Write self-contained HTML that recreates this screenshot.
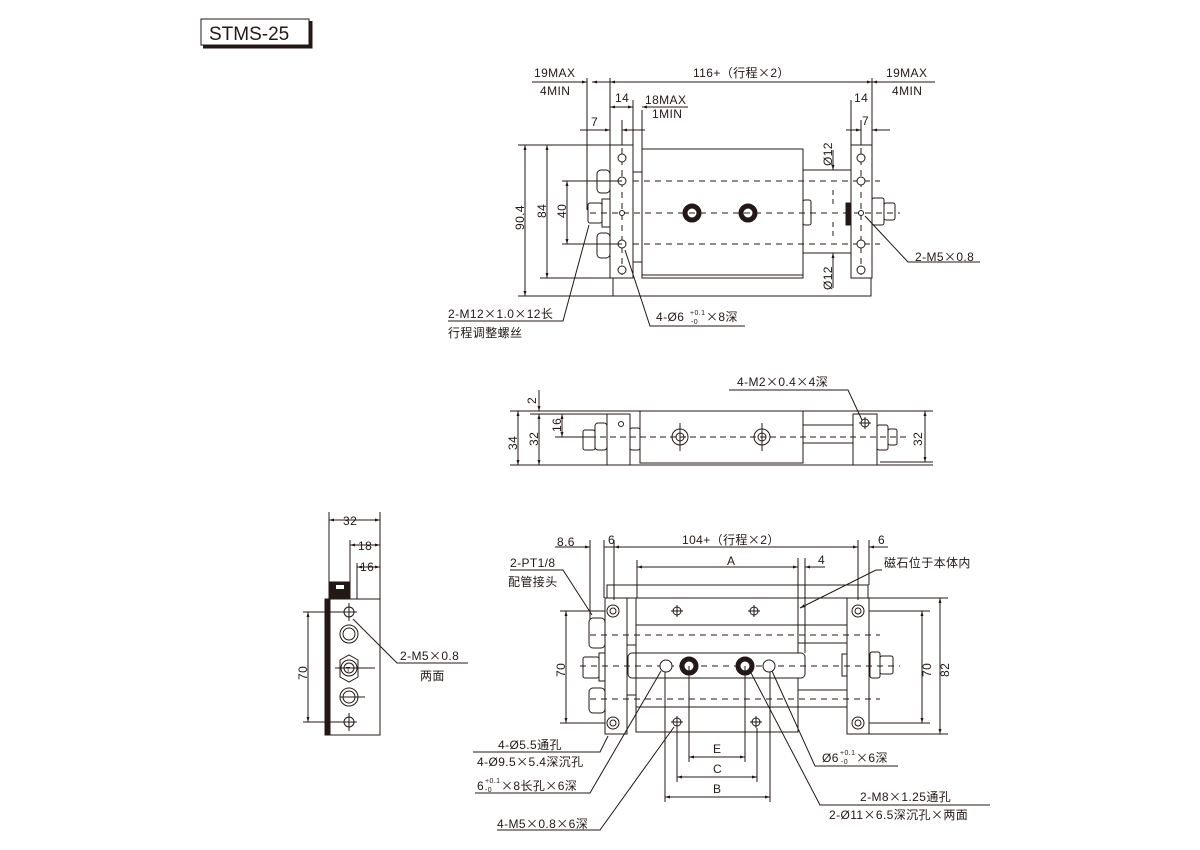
<!DOCTYPE html>
<html><head><meta charset="utf-8"><style>
body{margin:0;background:#fff}
svg{display:block}
text{font-family:"Liberation Sans","Noto Sans CJK SC",sans-serif;font-size:12px;fill:#231815;letter-spacing:0.4px}
.c{font-family:"Noto Sans CJK SC",sans-serif}
</style></head><body>
<svg width="1200" height="850" viewBox="0 0 1200 850" xmlns="http://www.w3.org/2000/svg">
<defs>
<marker id="a" viewBox="0 0 10 10" refX="10" refY="5" markerWidth="7" markerHeight="5" orient="auto-start-reverse"><path d="M0,2 L10,5 L0,8z" fill="#231815"/></marker>
</defs>
<g stroke="#231815" fill="none" stroke-width="1">
<rect x="201" y="19" width="108" height="26" fill="#fff"/>
<path d="M311,21 V47 H203" stroke-width="3"/>
</g>
<text x="209" y="40" style="font-size:19px;letter-spacing:0">STMS-25</text>

<!-- ===== TOP VIEW ===== -->
<g stroke="#231815" fill="none" stroke-width="1">
<rect x="610" y="145" width="23" height="133"/>
<rect x="642" y="149" width="161" height="129"/>
<line x1="642" y1="275" x2="803" y2="275"/>
<rect x="851" y="145" width="21" height="133"/>
<rect x="803" y="170" width="48" height="83"/>
<rect x="633" y="172" width="9" height="90"/>
<path d="M613,278 V296 H871 V278"/>
<g stroke-dasharray="6,5"><line x1="633" y1="181" x2="880" y2="181"/><line x1="590" y1="213" x2="900" y2="213"/><line x1="633" y1="244" x2="880" y2="244"/><line x1="622" y1="148" x2="622" y2="275"/><line x1="861" y1="148" x2="861" y2="275"/></g>
<g fill="#fff"><circle cx="622" cy="158" r="4"/><circle cx="622" cy="181" r="4"/><circle cx="622" cy="244" r="4"/><circle cx="622" cy="270" r="4"/><circle cx="622" cy="213" r="2.5"/>
<circle cx="861" cy="158" r="4"/><circle cx="861" cy="181" r="4"/><circle cx="861" cy="244" r="4"/><circle cx="861" cy="270" r="4"/><circle cx="861" cy="213" r="2.5"/></g>
<circle cx="692" cy="213" r="7" stroke-width="5"/><circle cx="748" cy="213" r="7" stroke-width="5"/>
<rect x="597" y="170" width="13" height="23" rx="4"/><rect x="597" y="233" width="13" height="25" rx="4"/>
<rect x="588" y="203" width="14" height="20" rx="2"/><rect x="602" y="199" width="8" height="28"/>
<rect x="803" y="200" width="8" height="25" rx="2"/>
<rect x="846" y="203" width="5" height="22" fill="#231815"/>
<rect x="872" y="198" width="12" height="27" rx="2"/><rect x="884" y="203" width="11" height="17" rx="2"/>
<line x1="587" y1="78" x2="587" y2="210"/><line x1="610" y1="78" x2="610" y2="145"/><line x1="872" y1="78" x2="872" y2="145"/>
<line x1="633" y1="100" x2="633" y2="145"/><line x1="642" y1="110" x2="642" y2="149"/><line x1="851" y1="100" x2="851" y2="145"/>
<line x1="532" y1="82" x2="587" y2="82" marker-end="url(#a)"/><line x1="592" y1="82" x2="610" y2="82" marker-start="url(#a)" />
<line x1="610" y1="82" x2="872" y2="82" marker-start="url(#a)" marker-end="url(#a)"/>
<line x1="872" y1="82" x2="935" y2="82" marker-start="url(#a)"/>
<line x1="610" y1="107" x2="633" y2="107" marker-start="url(#a)" marker-end="url(#a)"/>
<line x1="642" y1="107" x2="688" y2="107" marker-start="url(#a)"/>
<line x1="580" y1="130" x2="610" y2="130" marker-end="url(#a)"/><line x1="622" y1="130" x2="645" y2="130" marker-start="url(#a)"/>
<line x1="622" y1="120" x2="622" y2="145"/>
<line x1="846" y1="130" x2="861" y2="130" marker-end="url(#a)"/><line x1="872" y1="130" x2="890" y2="130" marker-start="url(#a)"/>
<line x1="861" y1="120" x2="861" y2="145"/>
<line x1="518" y1="145" x2="610" y2="145"/><line x1="518" y1="296" x2="613" y2="296"/><line x1="540" y1="278" x2="610" y2="278"/>
<line x1="525" y1="145" x2="525" y2="296" marker-start="url(#a)" marker-end="url(#a)"/>
<line x1="547" y1="145" x2="547" y2="278" marker-start="url(#a)" marker-end="url(#a)"/>
<line x1="562" y1="181" x2="622" y2="181"/><line x1="562" y1="244" x2="622" y2="244"/>
<line x1="567" y1="181" x2="567" y2="244" marker-start="url(#a)" marker-end="url(#a)"/>
<line x1="833" y1="150" x2="833" y2="170" marker-end="url(#a)"/><line x1="833" y1="253" x2="833" y2="288" marker-start="url(#a)"/>
<line x1="833" y1="190" x2="833" y2="205" stroke-dasharray="5,4"/><line x1="833" y1="222" x2="833" y2="240" stroke-dasharray="5,4"/>
<path d="M589,225 L563,321 H448"/><path d="M625,250 L650,326 H745"/><path d="M865,216 L908,262 H980"/>
</g>
<text x="534" y="77">19MAX</text><text x="540" y="95">4MIN</text>
<text x="693" y="77">116+（行程<tspan class="c">×</tspan>2）</text>
<text x="886" y="77">19MAX</text><text x="892" y="95">4MIN</text>
<text x="615" y="102">14</text><text x="645" y="104">18MAX</text><text x="652" y="118">1MIN</text>
<text x="591" y="126">7</text><text x="854" y="102">14</text><text x="862" y="125">7</text>
<text x="524" y="230" transform="rotate(-90 524 230)">90.4</text>
<text x="546" y="218" transform="rotate(-90 546 218)">84</text>
<text x="566" y="218" transform="rotate(-90 566 218)">40</text>
<text x="832" y="166" transform="rotate(-90 832 166)">Ø12</text>
<text x="832" y="290" transform="rotate(-90 832 290)">Ø12</text>
<text x="448" y="318">2-M12<tspan class="c">×</tspan>1.0<tspan class="c">×</tspan>12长</text><text x="448" y="337">行程调整螺丝</text>
<text x="656" y="321">4-Ø6</text><text x="690" y="315" style="font-size:7px">+0.1</text><text x="691" y="324" style="font-size:7px">-0</text><text x="706" y="321"><tspan class="c">×</tspan>8深</text>
<text x="915" y="261">2-M5<tspan class="c">×</tspan>0.8</text>

<!-- ===== SIDE VIEW ===== -->
<g stroke="#231815" fill="none" stroke-width="1">
<line x1="510" y1="411" x2="933" y2="411"/><line x1="510" y1="465" x2="933" y2="465"/>
<line x1="530" y1="414" x2="607" y2="414"/>
<rect x="607" y="414" width="23" height="51"/>
<rect x="640" y="411" width="163" height="52"/>
<rect x="803" y="425" width="50" height="18"/>
<rect x="853" y="414" width="24" height="51"/>
<rect x="877" y="425" width="11" height="25" rx="2"/><rect x="888" y="429" width="9" height="16" rx="2"/>
<rect x="595" y="423" width="12" height="27" rx="3"/><rect x="583" y="430" width="12" height="20" rx="2"/>
<rect x="630" y="428" width="10" height="22" rx="2"/>
<line x1="560" y1="437" x2="910" y2="437" stroke-dasharray="6,4"/>
<circle cx="680" cy="437" r="8"/><circle cx="680" cy="437" r="4"/><line x1="680" y1="423" x2="680" y2="451"/>
<circle cx="762" cy="437" r="8"/><circle cx="762" cy="437" r="4"/><line x1="762" y1="423" x2="762" y2="451"/>
<circle cx="865" cy="423" r="4"/><line x1="859" y1="423" x2="871" y2="423"/><line x1="865" y1="417" x2="865" y2="429"/>
<circle cx="621" cy="424" r="2.5"/>
<line x1="518" y1="411" x2="518" y2="465" marker-start="url(#a)" marker-end="url(#a)"/>
<line x1="539" y1="414" x2="539" y2="465" marker-start="url(#a)" marker-end="url(#a)"/>
<line x1="539" y1="390" x2="539" y2="411" marker-end="url(#a)"/>
<line x1="562" y1="414" x2="562" y2="437" marker-start="url(#a)" marker-end="url(#a)"/>
<line x1="555" y1="437" x2="590" y2="437"/>
<line x1="925" y1="411" x2="925" y2="462" marker-start="url(#a)" marker-end="url(#a)"/>
<line x1="880" y1="462" x2="933" y2="462"/>
<path d="M729,390 H848 L862,420"/>
</g>
<text x="517" y="450" transform="rotate(-90 517 450)">34</text>
<text x="538" y="446" transform="rotate(-90 538 446)">32</text>
<text x="561" y="432" transform="rotate(-90 561 432)">16</text>
<text x="536" y="404" transform="rotate(-90 536 404)">2</text>
<text x="922" y="446" transform="rotate(-90 922 446)">32</text>
<text x="737" y="386">4-M2<tspan class="c">×</tspan>0.4<tspan class="c">×</tspan>4深</text>

<!-- ===== END VIEW ===== -->
<g stroke="#231815" fill="none" stroke-width="1">
<rect x="329" y="599" width="51" height="136"/>
<rect x="325" y="599" width="5" height="136" fill="#231815"/>
<path d="M329,582 H350 V599 H329z" fill="#231815"/>
<rect x="336" y="585" width="8" height="4" fill="#fff" stroke="none"/>
<line x1="329" y1="512" x2="329" y2="582"/><line x1="380" y1="512" x2="380" y2="599"/>
<line x1="350" y1="540" x2="350" y2="582"/><line x1="357" y1="563" x2="357" y2="599"/>
<line x1="329" y1="520" x2="380" y2="520" marker-start="url(#a)" marker-end="url(#a)"/>
<line x1="350" y1="545" x2="380" y2="545" marker-start="url(#a)" marker-end="url(#a)"/>
<line x1="357" y1="567" x2="380" y2="567" marker-start="url(#a)" marker-end="url(#a)"/>
<line x1="303" y1="612" x2="345" y2="612"/><line x1="303" y1="722" x2="345" y2="722"/>
<line x1="308" y1="612" x2="308" y2="722" marker-start="url(#a)" marker-end="url(#a)"/>
<circle cx="349" cy="612" r="5"/><line x1="349" y1="603" x2="349" y2="621"/><line x1="341" y1="612" x2="357" y2="612"/>
<circle cx="349" cy="722" r="5"/><line x1="349" y1="713" x2="349" y2="731"/><line x1="341" y1="722" x2="357" y2="722"/>
<circle cx="349" cy="634" r="9"/><circle cx="349" cy="634" r="6"/>
<circle cx="349" cy="697" r="9"/><circle cx="349" cy="697" r="6"/><line x1="340" y1="697" x2="365" y2="697"/>
<path d="M340,660 L349,655 L358,660 L358,677 L349,682 L340,677z"/><circle cx="349" cy="668" r="8"/><circle cx="349" cy="668" r="5"/>
<line x1="335" y1="668" x2="375" y2="668"/>
<path d="M353,619 L397,663 H468"/>
</g>
<text x="346" y="672" style="font-size:7px">T</text>
<text x="343" y="525">32</text><text x="358" y="550">18</text><text x="360" y="571">16</text>
<text x="307" y="680" transform="rotate(-90 307 680)">70</text>
<text x="400" y="660">2-M5<tspan class="c">×</tspan>0.8</text><text x="420" y="680">两面</text>

<!-- ===== BOTTOM VIEW ===== -->
<g stroke="#231815" fill="none" stroke-width="1">
<rect x="607" y="585" width="261" height="13"/>
<rect x="605" y="598" width="22" height="136"/>
<rect x="636" y="598" width="162" height="134"/>
<rect x="847" y="598" width="22" height="136"/>
<rect x="636" y="625" width="162" height="28"/>
<rect x="628" y="653" width="177" height="25" rx="4" fill="#fff"/>
<rect x="636" y="678" width="162" height="29" fill="#fff"/>
<line x1="798" y1="643" x2="847" y2="643"/><line x1="798" y1="625" x2="847" y2="625"/>
<line x1="798" y1="690" x2="847" y2="690"/><line x1="798" y1="707" x2="847" y2="707"/>
<rect x="627" y="645" width="9" height="50"/>
<g stroke-dasharray="6,5"><line x1="590" y1="635" x2="880" y2="635"/><line x1="580" y1="666" x2="900" y2="666"/><line x1="590" y1="699" x2="880" y2="699"/></g>
<g fill="#fff"><circle cx="613" cy="611" r="6"/><circle cx="613" cy="723" r="6"/><circle cx="858" cy="611" r="6"/><circle cx="858" cy="723" r="6"/></g>
<circle cx="613" cy="611" r="3"/><circle cx="613" cy="723" r="3"/><circle cx="858" cy="611" r="3"/><circle cx="858" cy="723" r="3"/>
<g><circle cx="677" cy="611" r="4"/><line x1="677" y1="605" x2="677" y2="617"/><line x1="671" y1="611" x2="683" y2="611"/>
<circle cx="754" cy="611" r="4"/><line x1="754" y1="605" x2="754" y2="617"/><line x1="748" y1="611" x2="760" y2="611"/>
<circle cx="677" cy="722" r="4"/><line x1="677" y1="716" x2="677" y2="728"/><line x1="671" y1="722" x2="683" y2="722"/>
<circle cx="756" cy="722" r="4"/><line x1="756" y1="716" x2="756" y2="728"/><line x1="750" y1="722" x2="762" y2="722"/></g>
<circle cx="666" cy="666" r="6" fill="#fff"/><circle cx="769" cy="666" r="6" fill="#fff"/>
<circle cx="689" cy="666" r="7" stroke-width="5" fill="#fff"/><circle cx="745" cy="666" r="7" stroke-width="5" fill="#fff"/>
<rect x="589" y="618" width="16" height="30" rx="4"/><rect x="589" y="688" width="16" height="25" rx="4"/>
<rect x="583" y="657" width="16" height="21" rx="2"/><rect x="599" y="653" width="6" height="28"/>
<rect x="842" y="654" width="5" height="22"/>
<rect x="870" y="652" width="10" height="26" rx="2"/><rect x="880" y="656" width="13" height="18" rx="2"/>
<line x1="590" y1="540" x2="590" y2="620"/><line x1="604" y1="540" x2="604" y2="598"/><line x1="614" y1="540" x2="614" y2="600"/>
<line x1="858" y1="540" x2="858" y2="600"/><line x1="869" y1="540" x2="869" y2="585"/>
<line x1="555" y1="547" x2="590" y2="547" marker-end="url(#a)"/>
<line x1="604" y1="547" x2="614" y2="547"/>
<line x1="614" y1="547" x2="858" y2="547" marker-start="url(#a)" marker-end="url(#a)"/>
<line x1="869" y1="547" x2="888" y2="547" marker-start="url(#a)"/>
<line x1="637" y1="560" x2="637" y2="598"/><line x1="798" y1="558" x2="798" y2="625"/><line x1="805" y1="558" x2="805" y2="653"/>
<line x1="637" y1="567" x2="798" y2="567" marker-start="url(#a)" marker-end="url(#a)"/>
<line x1="805" y1="567" x2="825" y2="567" marker-start="url(#a)"/>
<line x1="560" y1="611" x2="605" y2="611"/><line x1="560" y1="723" x2="605" y2="723"/>
<line x1="566" y1="611" x2="566" y2="723" marker-start="url(#a)" marker-end="url(#a)"/>
<line x1="869" y1="611" x2="930" y2="611"/><line x1="869" y1="723" x2="930" y2="723"/><line x1="869" y1="598" x2="948" y2="598"/><line x1="869" y1="734" x2="948" y2="734"/>
<line x1="922" y1="611" x2="922" y2="723" marker-start="url(#a)" marker-end="url(#a)"/>
<line x1="940" y1="598" x2="940" y2="734" marker-start="url(#a)" marker-end="url(#a)"/>
<line x1="689" y1="666" x2="689" y2="762"/><line x1="745" y1="666" x2="745" y2="762"/>
<line x1="677" y1="728" x2="677" y2="782"/><line x1="757" y1="728" x2="757" y2="782"/>
<line x1="665" y1="672" x2="665" y2="802"/><line x1="770" y1="672" x2="770" y2="802"/>
<line x1="689" y1="757" x2="745" y2="757" marker-start="url(#a)" marker-end="url(#a)"/>
<line x1="677" y1="777" x2="757" y2="777" marker-start="url(#a)" marker-end="url(#a)"/>
<line x1="665" y1="797" x2="770" y2="797" marker-start="url(#a)" marker-end="url(#a)"/>
<path d="M510,570 H563 L592,615"/>
<path d="M882,570 H876 L800,608" marker-end="url(#a)"/>
<path d="M608,736 L600,752 H473"/>
<path d="M661,671 L590,793 H475"/>
<path d="M674,727 L600,830 H497"/>
<path d="M772,671 L815,766 H898"/>
<path d="M750,671 L820,805 H990"/>
</g>
<text x="557" y="546">8.6</text><text x="608" y="544">6</text><text x="878" y="544">6</text>
<text x="682" y="544">104+（行程<tspan class="c">×</tspan>2）</text>
<text x="727" y="565">A</text><text x="818" y="564">4</text>
<text x="510" y="567">2-PT1/8</text><text x="508" y="586">配管接头</text>
<text x="884" y="567">磁石位于本体内</text>
<text x="565" y="677" transform="rotate(-90 565 677)">70</text>
<text x="931" y="677" transform="rotate(-90 931 677)">70</text>
<text x="949" y="677" transform="rotate(-90 949 677)">82</text>
<text x="713" y="753">E</text><text x="713" y="773">C</text><text x="713" y="793">B</text>
<text x="498" y="749">4-Ø5.5通孔</text><text x="477" y="766">4-Ø9.5<tspan class="c">×</tspan>5.4深沉孔</text>
<text x="477" y="790">6</text><text x="485" y="783" style="font-size:7px">+0.1</text><text x="485" y="792" style="font-size:7px">-0</text><text x="501" y="790"><tspan class="c">×</tspan>8长孔<tspan class="c">×</tspan>6深</text>
<text x="497" y="828">4-M5<tspan class="c">×</tspan>0.8<tspan class="c">×</tspan>6深</text>
<text x="822" y="762">Ø6</text><text x="840" y="755" style="font-size:7px">+0.1</text><text x="841" y="764" style="font-size:7px">-0</text><text x="856" y="762"><tspan class="c">×</tspan>6深</text>
<text x="860" y="801">2-M8<tspan class="c">×</tspan>1.25通孔</text>
<text x="829" y="819">2-Ø11<tspan class="c">×</tspan>6.5深沉孔<tspan class="c">×</tspan>两面</text>
</svg>
</body></html>
